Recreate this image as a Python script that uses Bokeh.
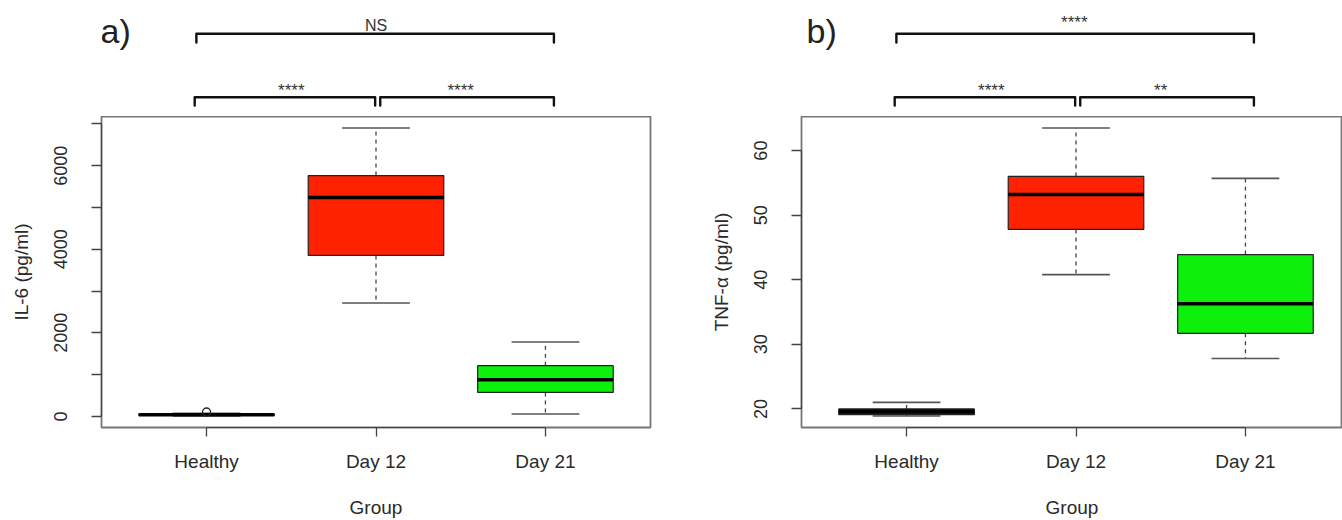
import math
from bokeh.plotting import figure
from bokeh.models import Range1d, FixedTicker
from bokeh.layouts import row, column
from bokeh.embed import file_html
from bokeh.resources import INLINE
from bokeh.core.properties import value

# ---------------- data ----------------
groups = ["Healthy", "Day 12", "Day 21"]
box_colors = ["#101052", "#ff2200", "#0cf00c"]

il6_min = [10, 2713, 57]
il6_q1 = [25, 3852, 574]
il6_median = [40, 5240, 878]
il6_q3 = [55, 5763, 1213]
il6_max = [75, 6900, 1780]
il6_outlier_group = [1]
il6_outlier_value = [105]
il6_ticks = [0, 1000, 2000, 3000, 4000, 5000, 6000, 7000]
il6_tick_labels = ["0", "", "2000", "", "4000", "", "6000", ""]

tnf_min = [18.9, 40.8, 27.8]
tnf_q1 = [19.1, 47.8, 31.7]
tnf_median = [19.6, 53.2, 36.3]
tnf_q3 = [20.0, 56.0, 43.9]
tnf_max = [21.0, 63.5, 55.7]
tnf_outlier_group = []
tnf_outlier_value = []
tnf_ticks = [20, 30, 40, 50, 60]
tnf_tick_labels = ["20", "30", "40", "50", "60"]

il6_sig = [(1, 3, "NS"), (1, 2, "****"), (2, 3, "****")]
tnf_sig = [(1, 3, "****"), (1, 2, "****"), (2, 3, "**")]

FONT = "Liberation Sans"
TXT = "#2a2a2a"
X0, X1 = 0.38, 3.62
PPU = 549 / (X1 - X0)          # pixels per group unit
TOP_H = 116
MAIN_H = 404
BOT = 92


def main_fig(width, bl, br, x_range, mins, q1, med, q3, maxs, out_g, out_v,
             ticks, tick_labels, ylabel):
    lo = min(mins + out_v)
    hi = max(maxs + out_v)
    pad = 0.04 * (hi - lo)
    p = figure(width=width, height=MAIN_H,
               x_range=x_range, y_range=Range1d(lo - pad, hi + pad),
               output_backend="svg", toolbar_location=None,
               min_border_left=bl, min_border_right=br,
               min_border_top=0, min_border_bottom=BOT)
    p.grid.visible = False
    p.outline_line_color = "#777777"
    p.outline_line_width = 1.8
    p.background_fill_color = "white"
    p.border_fill_color = "white"

    xs = [1, 2, 3]
    # whiskers
    p.segment(x0=xs, y0=q3, x1=xs, y1=maxs, line_color="#444444",
              line_width=1.3, line_dash="4 4")
    p.segment(x0=xs, y0=q1, x1=xs, y1=mins, line_color="#444444",
              line_width=1.3, line_dash="4 4")
    # caps
    p.segment(x0=[x - 0.2 for x in xs], y0=maxs, x1=[x + 0.2 for x in xs],
              y1=maxs, line_color="#555555", line_width=1.6)
    p.segment(x0=[x - 0.2 for x in xs], y0=mins, x1=[x + 0.2 for x in xs],
              y1=mins, line_color="#555555", line_width=1.6)
    # boxes
    p.vbar(x=xs, width=0.8, bottom=q1, top=q3, fill_color=box_colors,
           line_color="#222222", line_width=1.2)
    # medians
    p.segment(x0=[x - 0.4 for x in xs], y0=med, x1=[x + 0.4 for x in xs],
              y1=med, line_color="black", line_width=3.5)
    if out_g:
        p.scatter(x=out_g, y=out_v, marker="circle", size=8,
                  fill_color=None, line_color="#222222", line_width=1.3)

    # axes
    xa = p.xaxis[0]
    xa.ticker = FixedTicker(ticks=xs)
    xa.major_label_overrides = {i + 1: g for i, g in enumerate(groups)}
    xa.bounds = (1, 3)
    xa.axis_label = "Group"
    ya = p.yaxis[0]
    ya.ticker = FixedTicker(ticks=ticks)
    ya.major_label_overrides = {t: l for t, l in zip(ticks, tick_labels)}
    ya.bounds = (ticks[0], ticks[-1])
    ya.axis_label = ylabel
    ya.major_label_orientation = "parallel"
    for ax in (xa, ya):
        ax.axis_line_color = "#444444"
        ax.axis_line_width = 1.2
        ax.major_tick_line_color = "#444444"
        ax.major_tick_line_width = 1.3
        ax.major_tick_in = 0
        ax.minor_tick_line_color = None
        ax.major_label_text_font = FONT
        ax.major_label_text_color = TXT
        ax.axis_label_text_font = FONT
        ax.axis_label_text_font_size = "19px"
        ax.axis_label_text_font_style = "normal"
        ax.axis_label_text_color = TXT
    xa.major_label_text_font_size = "19px"
    ya.major_label_text_font_size = "18px"
    xa.major_tick_out = 9
    xa.major_label_standoff = 14
    xa.axis_label_standoff = 22
    ya.major_tick_out = 10
    ya.major_label_standoff = 24
    ya.axis_label_standoff = 20
    return p


def top_fig(width, bl, br, x_range, sig, letter, letter_x):
    p = figure(width=width, height=TOP_H,
               x_range=x_range, y_range=Range1d(TOP_H, 0),
               output_backend="svg", toolbar_location=None,
               min_border_left=bl, min_border_right=br,
               min_border_top=0, min_border_bottom=0,
               x_axis_type=None, y_axis_type=None)
    p.outline_line_color = None
    p.background_fill_color = "white"
    p.border_fill_color = "white"

    levels = {(1, 3): (33.3, 42.0), (1, 2): (96.7, 105.0), (2, 3): (96.7, 105.0)}
    offs = {(1, 3): (-0.06, 0.05), (1, 2): (-0.07, -0.005), (2, 3): (0.025, 0.05)}
    xs_list, ys_list = [], []
    star_x, star_y, star_t, ns_x, ns_y, ns_t = [], [], [], [], [], []
    for a, b, lab in sig:
        yl, yt = levels[(a, b)]
        oa, ob = offs[(a, b)]
        xa, xb = a + oa, b + ob
        xs_list.append([xa, xa, xb, xb])
        ys_list.append([yt, yl, yl, yt])
        if lab == "NS":
            ns_x.append((a + b) / 2)
            ns_y.append(yl - 8.3)
            ns_t.append(lab)
        else:
            star_x.append((a + b) / 2 - (0.01 if (a, b) == (1, 3) else 0))
            star_y.append(yl - 11.3 if (a, b) == (1, 3) else yl - 6.3)
            star_t.append(lab)
    p.multi_line(xs=xs_list, ys=ys_list, line_color="#111111", line_width=2.4,
                 line_join="round", line_cap="round")
    if star_t:
        p.text(x=star_x, y=star_y, text=star_t, text_font=value(FONT),
               text_font_size="17px", text_align="center",
               text_baseline="middle", text_color="#333333")
    if ns_t:
        p.text(x=ns_x, y=ns_y, text=ns_t, text_font=value(FONT),
               text_font_size="16px", text_align="center",
               text_baseline="middle", text_color="#333333")
    p.text(x=[letter_x], y=[30], text=[letter], text_font=value(FONT),
           text_font_size="34px", text_align="left",
           text_baseline="middle", text_color="#222222")
    return p


LW, LBL, LBR = 680, 101, 30
RW, RBL, RBR = 662, 121, 0

xr_a = Range1d(X0, X0 + (LW - LBL - LBR) / PPU)
xr_b = Range1d(X0, X0 + (RW - RBL - RBR) / PPU)

top_a = top_fig(LW, LBL, LBR, xr_a, il6_sig, "a)", X0 - 1.0 / PPU)
main_a = main_fig(LW, LBL, LBR, xr_a, il6_min, il6_q1, il6_median, il6_q3,
                  il6_max, il6_outlier_group, il6_outlier_value, il6_ticks,
                  il6_tick_labels, "IL-6 (pg/ml)")
top_b = top_fig(RW, RBL, RBR, xr_b, tnf_sig, "b)", X0 + 5 / PPU)
main_b = main_fig(RW, RBL, RBR, xr_b, tnf_min, tnf_q1, tnf_median, tnf_q3,
                  tnf_max, tnf_outlier_group, tnf_outlier_value, tnf_ticks,
                  tnf_tick_labels, "TNF-\u03b1 (pg/ml)")

layout = row(column(top_a, main_a, spacing=0), column(top_b, main_b, spacing=0),
             spacing=0)

open("out.html", "w").write(file_html(layout, INLINE))
